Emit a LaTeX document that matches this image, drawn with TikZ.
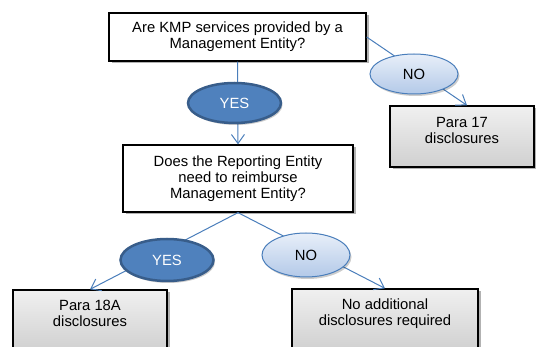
\documentclass[tikz,border=0pt]{standalone}
\usepackage{fontspec}
\setmainfont{Liberation Sans}
\usetikzlibrary{shapes.geometric,arrows.meta,shadows,calc}
\definecolor{conncol}{HTML}{4A7EBB}
\definecolor{yesfill}{HTML}{4F81BD}
\definecolor{yesdraw}{HTML}{385D8A}
\definecolor{notop}{HTML}{E8EFF9}
\definecolor{nobot}{HTML}{B3C9E8}
\definecolor{boxtop}{HTML}{F0F0F0}
\definecolor{boxbot}{HTML}{D0D0D0}
\begin{document}
\begin{tikzpicture}[x=1pt,y=-1pt,
  font=\fontsize{14.8}{16}\selectfont,
  boxshadow/.style={drop shadow={shadow xshift=2.5pt,shadow yshift=-2.5pt,fill=black,opacity=0.3}},
  question/.style={rectangle,draw=black,line width=1.3pt,fill=white,inner sep=0pt,align=center,boxshadow},
  result/.style={rectangle,draw=black,line width=1.3pt,top color=boxtop,bottom color=boxbot,inner sep=0pt,boxshadow},
  txt/.style={inner sep=0pt,align=center},
  yesnode/.style={ellipse,draw=yesdraw,line width=2.5pt,fill=yesfill,text=white,inner sep=0pt,
    drop shadow={shadow xshift=1.5pt,shadow yshift=-2pt,fill=black,opacity=0.2}},
  nonode/.style={ellipse,draw=conncol,line width=1pt,top color=notop,bottom color=nobot,inner sep=0pt,
    drop shadow={shadow xshift=1.5pt,shadow yshift=-2pt,fill=black,opacity=0.2}},
  connector/.style={draw=conncol,line width=1pt,-{Straight Barb[length=9pt,width=13pt,line width=1pt]}}
]
\useasboundingbox (0,0) rectangle (536,347);
\clip (0,0) rectangle (536,347);

% boxes
\node[question,minimum width=257pt,minimum height=48pt] (q1) at (237.5,37)
  {Are KMP services provided by a\\Management Entity?};
\node[question,minimum width=230pt,minimum height=67pt] (q2) at (238,178.5)
  {Does the Reporting Entity\\need to reimburse\\Management Entity?};
\node[result,minimum width=144pt,minimum height=61pt] (p17) at (462,136.5) {};
\node[result,minimum width=154pt,minimum height=61pt] (p18) at (90,320.5) {};
\node[result,minimum width=186pt,minimum height=61pt] (na) at (385,319.5) {};

\node[txt] (p17t) at ($(p17.north)+(0,25.5)$) {Para 17\\disclosures};
\node[txt] (p18t) at ($(p18.north)+(0,24.5)$) {Para 18A\\disclosures};
\node[txt] (nat) at ($(na.north)+(0,25.5)$) {No additional\\disclosures required};

% connectors
\draw[connector] (q1.east) -- ([xshift=5pt]p17.north);
\draw[connector] (q1.south) -- (q2.north);
\draw[connector] (q2.south) -- (p18.north);
\draw[connector] (q2.south) -- (na.north);

% labels
\node[nonode,minimum width=88pt,minimum height=40pt] (no1) at (414,74) {NO};
\node[yesnode,minimum width=93pt,minimum height=40pt] (yes1) at (234.5,103) {YES};
\node[yesnode,minimum width=93pt,minimum height=42pt] (yes2) at (167,260) {YES};
\node[nonode,minimum width=88pt,minimum height=44pt] (no2) at (306,255) {NO};
\end{tikzpicture}
\end{document}
